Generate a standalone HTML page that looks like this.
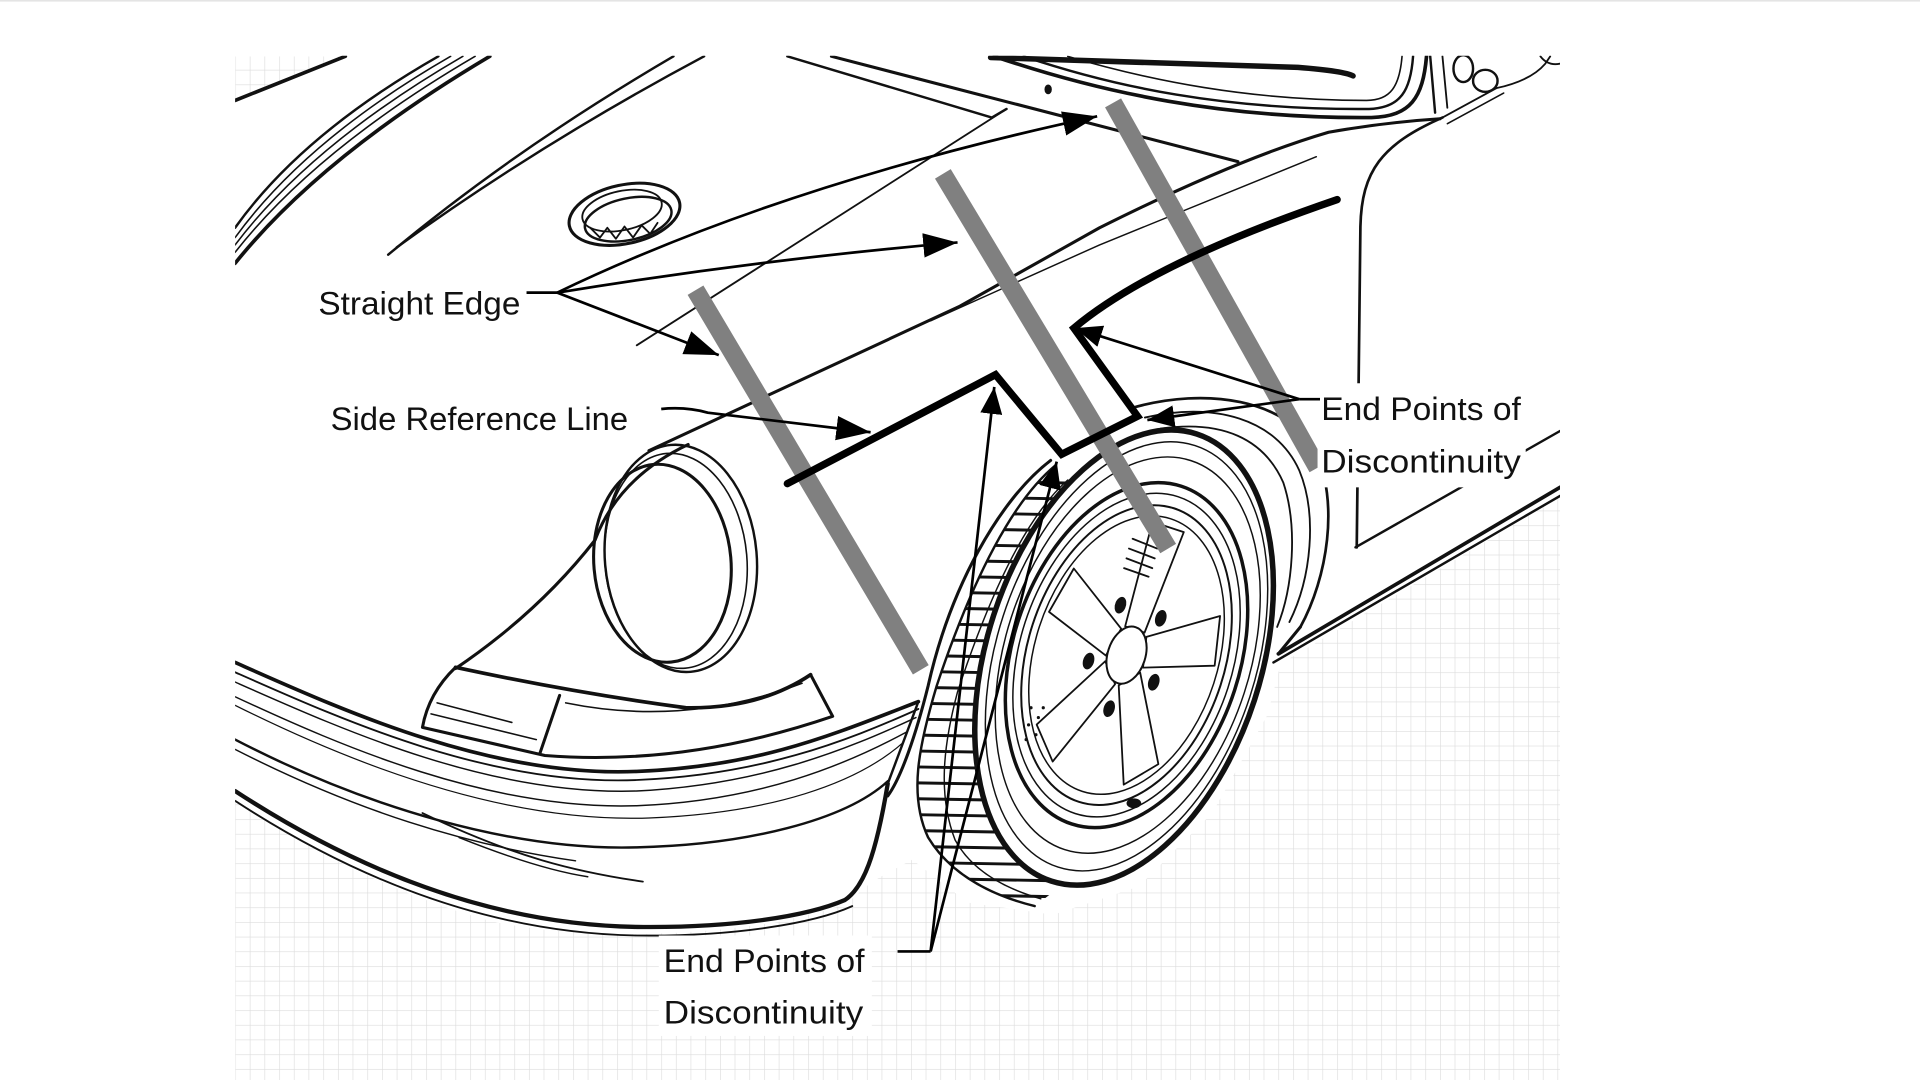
<!DOCTYPE html>
<html>
<head>
<meta charset="utf-8">
<style>
  html,body{margin:0;padding:0;background:#fff;overflow:hidden;}
  svg{display:block;}
  text{font-family:"Liberation Sans",Arial,sans-serif;fill:#111;}
</style>
</head>
<body>
<svg xmlns="http://www.w3.org/2000/svg" width="1920" height="1080" viewBox="0 0 1568 882">
<defs>
  <clipPath id="panel"><rect x="192" y="45.5" width="1082" height="837"/></clipPath>
  <clipPath id="gridclip"><path d="M192,46 L282,46 L192,82 Z M192,654 C250,692 320,730 400,752 C470,767 560,766 640,752 L690,739 L712,720 L745,702 L790,737 L860,747 L930,724 L990,664 L1035,584 L1046,542 L1274,406 L1274,882 L192,882 Z"/></clipPath>
  <clipPath id="treadreg"><path d="M862,380 C828,408 795,470 765,560 C750,610 742,650 758,684 C775,712 805,730 845,740 L866,724 L830,640 L850,480 L885,385 Z"/></clipPath>
  <marker id="ah" markerUnits="userSpaceOnUse" markerWidth="30" markerHeight="20" refX="28" refY="10" orient="auto"><path d="M0,0 L28,10 L0,20 Z" fill="#000"/></marker>
  <marker id="ah2" markerUnits="userSpaceOnUse" markerWidth="24" markerHeight="18" refX="22" refY="9" orient="auto"><path d="M0,0 L22,9 L0,18 Z" fill="#000"/></marker>
  <pattern id="grid" width="12" height="12" patternUnits="userSpaceOnUse" x="192" y="45">
    <path d="M12,0 L0,0 0,12" fill="none" stroke="#dcdcdc" stroke-width="1"/>
  </pattern>
</defs>

<rect x="0" y="0" width="1568" height="882" fill="#fff"/>
<rect x="0" y="0" width="1568" height="1.3" fill="#e4e4e4"/>

<!-- grid -->
<rect x="192" y="45" width="1082" height="837" fill="url(#grid)" clip-path="url(#gridclip)"/>

<g clip-path="url(#panel)" fill="none" stroke="#111" stroke-linecap="round" stroke-linejoin="round">
  <!-- top-left hood lines -->
  <path d="M192,82 L282,46" stroke-width="3"/>
  <path d="M192,215 Q262,128 400,46" stroke-width="3"/>
  <path d="M192,206 Q258,122 388,46" stroke-width="1.3"/>
  <path d="M192,200 Q254,118 378,46" stroke-width="1.3"/>
  <path d="M192,194 Q250,114 368,46" stroke-width="1.3"/>
  <path d="M192,186 Q246,110 358,46" stroke-width="2"/>
  <path d="M317,208 Q420,122 550,46" stroke-width="2"/>
  <path d="M324,202 Q440,118 575,46" stroke-width="2"/>

  <!-- fuel cap -->
  <ellipse cx="510" cy="175" rx="46" ry="24" transform="rotate(-12 510 175)" stroke-width="2.5"/>
  <ellipse cx="513" cy="179" rx="36" ry="17" transform="rotate(-12 513 179)" stroke-width="2"/>
  <ellipse cx="508" cy="172" rx="33" ry="16" transform="rotate(-12 508 172)" stroke-width="1.5"/>
  <path d="M482,186 L490,194 L496,186 L503,195 L510,185 L517,194 L524,184 L531,191 L537,182" stroke-width="1.5"/>

  <!-- hood / cowl lines -->
  <path d="M520,282 L822,89" stroke-width="1.5"/>
  <path d="M643,46 L810,96 L822,89" stroke-width="2"/>
  <path d="M679,46 L1011,132" stroke-width="2.5"/>
  <ellipse cx="856" cy="73" rx="3" ry="4" fill="#111" stroke="none"/>

  <!-- windshield -->
  <path d="M809,47 L1060,55 Q1098,58 1105,62" stroke-width="4.5"/>
  <path d="M812,46 C900,76 1000,97 1120,96 C1152,95 1162,80 1165,46" stroke-width="3"/>
  <path d="M836,46 C910,71 1000,90 1118,89 C1144,88 1152,74 1154,46" stroke-width="2"/>
  <path d="M872,46 C940,66 1020,82 1116,82 C1136,82 1143,70 1145,46" stroke-width="1.3"/>
  <path d="M1168,46 L1172,92" stroke-width="2"/>
  <path d="M1178,46 L1182,88" stroke-width="1.5"/>
  <ellipse cx="1195" cy="56" rx="8" ry="11" stroke-width="2"/>
  <ellipse cx="1213" cy="66" rx="10" ry="9" fill="#fff" stroke-width="2"/>
  <path d="M1178,96 L1222,72" stroke-width="1.5"/>
  <path d="M1182,101 L1228,76" stroke-width="1.3"/>
  <path d="M1222,72 Q1250,66 1262,52 L1266,46" stroke-width="1.5"/>
  <path d="M1258,46 Q1264,54 1274,52" stroke-width="1.5"/>

  <!-- fender crest -->
  <path d="M530,368 L784,250 L898,186 Q1010,130 1085,108 Q1130,100 1176,97" stroke-width="2.5"/>
  <path d="M760,262 L898,200 L1075,128" stroke-width="1.2"/>

  <!-- B pillar / door -->
  <path d="M1178,96 C1128,118 1112,140 1111,185 L1108,447" stroke-width="2.2"/>
  <path d="M1274,352 L1107,447" stroke-width="2"/>
  <path d="M1044,534 L1274,398" stroke-width="3"/>
  <path d="M1040,541 L1274,405" stroke-width="2"/>

  <!-- rear arch arcs -->
  <path d="M925,333 C985,316 1050,326 1074,368 C1094,410 1084,472 1062,512" stroke-width="2.2"/>
  <path d="M935,341 C992,328 1042,342 1061,384 C1076,420 1071,472 1053,508" stroke-width="1.5"/>
  <path d="M948,350 C998,343 1032,358 1048,394 C1060,430 1056,480 1043,512" stroke-width="1.5"/>
  <path d="M1062,512 L1044,534" stroke-width="2.5"/>

  <!-- headlight -->
  <path d="M562,363 Q505,390 486,441 Q440,500 372,546" stroke-width="2.5"/>
  <ellipse cx="556" cy="456" rx="62" ry="93" transform="rotate(-5 556 456)" stroke-width="2"/>
  <ellipse cx="552" cy="458" rx="58" ry="88" transform="rotate(-5 552 458)" stroke-width="1.3"/>
  <ellipse cx="541" cy="460" rx="56" ry="81" transform="rotate(-5 541 460)" stroke-width="2.5"/>

  <!-- turn signal -->
  <path d="M372,545 Q470,566 560,578 Q620,579 662,551" stroke-width="3"/>
  <path d="M662,551 L680,585 Q560,626 445,617 L345,594 Q350,566 372,545" stroke-width="2.5"/>
  <path d="M457,568 L441,615" stroke-width="2.5"/>
  <path d="M462,574 Q560,594 655,558" stroke-width="1.3"/>
  <path d="M352,583 L438,604" stroke-width="1.3"/>
  <path d="M357,574 L418,590" stroke-width="1.3"/>

  <!-- bumper -->
  <path d="M192,541 C280,580 400,635 520,630 C620,626 680,600 750,573" stroke-width="3"/>
  <path d="M192,549 C280,588 400,642 520,637 C620,633 690,606 750,579" stroke-width="1.5"/>
  <path d="M192,557 C280,596 400,650 520,646 C620,641 690,613 748,586" stroke-width="1.2"/>
  <path d="M192,569 C280,610 400,662 520,658 C620,654 690,625 740,598" stroke-width="1.2"/>
  <path d="M192,576 C300,630 420,672 530,668 C630,664 700,640 738,606" stroke-width="1"/>
  <path d="M192,604 C300,660 420,695 520,692 C610,690 690,670 725,638" stroke-width="2"/>
  <path d="M192,612 C290,662 380,690 470,703" stroke-width="1.2"/>
  <path d="M345,664 C420,700 470,712 525,720" stroke-width="1.5"/>
  <path d="M375,684 Q440,710 480,716" stroke-width="1.2"/>
  <path d="M192,646 C290,710 400,755 520,757 C600,758 660,748 690,735 C705,725 715,700 725,640" stroke-width="3.5"/>
  <path d="M192,654 C290,718 400,762 520,764 C600,765 665,754 696,740" stroke-width="1.5"/>
  <path d="M725,640 L750,573" stroke-width="2"/>

  <!-- tread band -->
  <path d="M862,380 C828,408 795,470 765,560 C750,610 742,650 758,684 C775,712 805,730 845,740 L866,724 L830,640 L850,480 L885,385 Z" fill="#fff" stroke="none"/>
  <g clip-path="url(#treadreg)" stroke-width="2.4">
    <path d="M730,392 L960,396 M730,405 L960,409 M730,418 L960,422 M730,431 L960,435 M730,444 L960,448 M730,457 L960,461 M730,470 L960,474 M730,483 L960,487 M730,496 L960,500 M730,509 L960,513 M730,522 L960,526 M730,535 L960,539 M730,548 L960,552 M730,561 L960,565 M730,574 L960,578 M730,587 L960,591 M730,600 L960,604 M730,613 L960,617 M730,626 L960,630 M730,639 L960,643 M730,652 L960,656 M730,665 L960,669 M730,678 L960,682 M730,691 L960,695 M730,704 L960,708 M730,717 L960,721 M730,730 L960,734"/>
  </g>
  <path d="M862,380 C828,408 795,470 765,560 C750,610 742,650 758,684 C775,712 805,730 845,740" stroke-width="2"/>
  <path d="M872,392 C840,420 810,480 782,565 C770,610 766,650 780,686 C792,708 815,724 850,734" stroke-width="1.2"/>

  <!-- tire -->
  <ellipse cx="918" cy="537" rx="112" ry="192" transform="rotate(18 918 537)" fill="#fff" stroke-width="4.5"/>
  <ellipse cx="920" cy="536" rx="106" ry="181" transform="rotate(18 920 536)" stroke-width="1.2"/>
  <ellipse cx="921" cy="535" rx="100" ry="167" transform="rotate(18 921 535)" stroke-width="1.2"/>

  <!-- rim & spokes -->
  <g transform="translate(920,535) rotate(18) scale(0.64,1)">
    <circle r="145" stroke-width="3.5" vector-effect="non-scaling-stroke"/>
    <circle r="136" stroke-width="1.5" vector-effect="non-scaling-stroke"/>
    <circle r="126" stroke-width="2" vector-effect="non-scaling-stroke"/>
    <circle r="117" stroke-width="1.5" vector-effect="non-scaling-stroke"/>
    <g stroke-width="1.8" fill="#fff">
      <path d="M22,-13 L110,-21 L110,21 L22,13 Z" transform="rotate(-90)" vector-effect="non-scaling-stroke"/>
      <path d="M22,-13 L110,-21 L110,21 L22,13 Z" transform="rotate(-18)" vector-effect="non-scaling-stroke"/>
      <path d="M22,-13 L110,-21 L110,21 L22,13 Z" transform="rotate(54)" vector-effect="non-scaling-stroke"/>
      <path d="M22,-13 L110,-21 L110,21 L22,13 Z" transform="rotate(126)" vector-effect="non-scaling-stroke"/>
      <path d="M22,-13 L110,-21 L110,21 L22,13 Z" transform="rotate(198)" vector-effect="non-scaling-stroke"/>
    </g>
    <circle r="24" fill="#fff" stroke-width="2" vector-effect="non-scaling-stroke"/>
    <g fill="#111" stroke="none">
      <circle cx="0" cy="-46" r="7" transform="rotate(36)"/>
      <circle cx="0" cy="-46" r="7" transform="rotate(108)"/>
      <circle cx="0" cy="-46" r="7" transform="rotate(180)"/>
      <circle cx="0" cy="-46" r="7" transform="rotate(252)"/>
      <circle cx="0" cy="-46" r="7" transform="rotate(324)"/>
    </g>
  </g>
  <path d="M925,440 L945,448 M922,448 L943,456 M920,456 L941,464 M918,464 L938,471" stroke-width="1.5"/>
  <ellipse cx="926" cy="656" rx="6" ry="4" fill="#111" stroke="none"/>
  <g fill="#111" stroke="none">
    <circle cx="842" cy="578" r="1.3"/><circle cx="848" cy="586" r="1.3"/><circle cx="840" cy="592" r="1.3"/>
    <circle cx="846" cy="600" r="1.3"/><circle cx="852" cy="578" r="1.3"/><circle cx="838" cy="604" r="1.3"/>
  </g>

  <!-- front arch lip -->
  <path d="M858,376 C816,408 776,480 758,560 C748,600 736,635 725,650" stroke-width="2.5"/>
</g>

<!-- straight edges -->
<g stroke="#808080" stroke-width="15" stroke-linecap="butt">
  <line x1="568" y1="237" x2="752" y2="547"/>
  <line x1="770" y1="142" x2="954" y2="448"/>
  <line x1="909" y1="84" x2="1076" y2="382"/>
</g>

<!-- side reference line -->
<path d="M643,395 L813,306 L867,371 L929,340 L877,268 Q940,215 1092,163" fill="none" stroke="#000" stroke-width="6" stroke-linecap="round" stroke-linejoin="miter"/>

<!-- label backgrounds -->
<rect x="254" y="226" width="178" height="40" fill="#fff"/>
<rect x="264" y="322" width="258" height="38" fill="#fff"/>
<rect x="1076" y="313" width="170" height="85" fill="#fff"/>
<rect x="538" y="764" width="174" height="82" fill="#fff"/>

<!-- labels -->
<text x="260" y="257" font-size="26.5" textLength="165" lengthAdjust="spacingAndGlyphs">Straight Edge</text>
<text x="270" y="351" font-size="26.5" textLength="243" lengthAdjust="spacingAndGlyphs">Side Reference Line</text>
<text x="1079" y="343" font-size="26.5" textLength="163" lengthAdjust="spacingAndGlyphs">End Points of</text>
<text x="1079" y="386" font-size="26.5" textLength="163" lengthAdjust="spacingAndGlyphs">Discontinuity</text>
<text x="542" y="794" font-size="26.5" textLength="164" lengthAdjust="spacingAndGlyphs">End Points of</text>
<text x="542" y="836" font-size="26.5" textLength="163" lengthAdjust="spacingAndGlyphs">Discontinuity</text>

<!-- arrows -->
<g fill="none" stroke="#000" stroke-width="2.2">
  <path d="M430,239 L455,239"/>
  <path d="M455,239 Q640,150 896,95" marker-end="url(#ah)"/>
  <path d="M455,239 Q620,212 782,198" marker-end="url(#ah)"/>
  <path d="M455,239 L587,290" marker-end="url(#ah)"/>
  <path d="M540,334 Q560,332 578,337 L711,353" marker-end="url(#ah)"/>
  <path d="M1061,326 L1078,326"/>
  <path d="M1061,326 L878,268" marker-end="url(#ah2)"/>
  <path d="M1061,326 L937,343" marker-end="url(#ah2)"/>
  <path d="M733,777 L760,777"/>
  <path d="M760,777 L812,316" marker-end="url(#ah2)"/>
  <path d="M760,777 L863,377" marker-end="url(#ah2)"/>
</g>
</svg>
</body>
</html>
